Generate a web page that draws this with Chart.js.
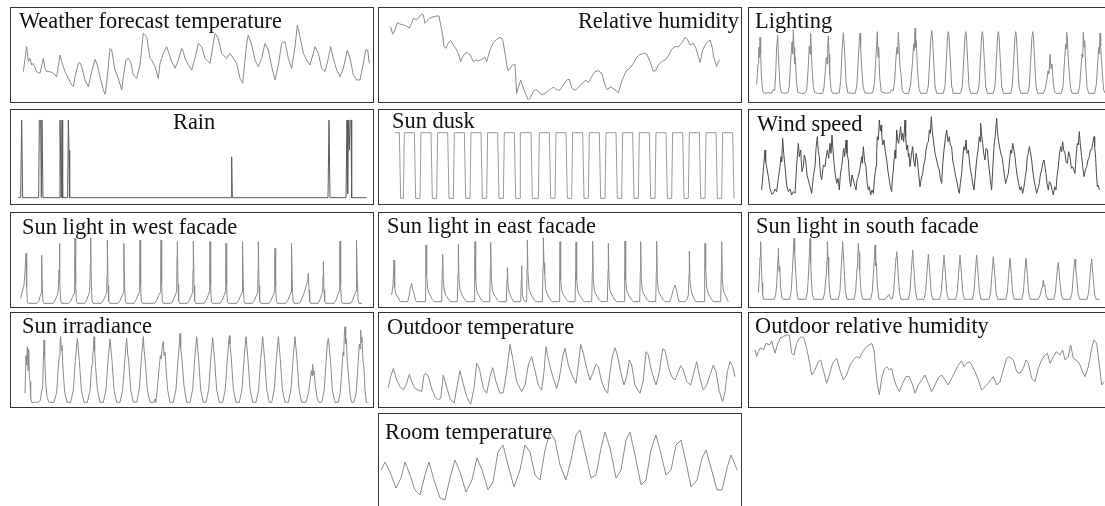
<!DOCTYPE html>
<html>
<head>
<meta charset="utf-8">
<script src="https://cdn.jsdelivr.net/npm/chart.js@4.4.1/dist/chart.umd.min.js"></script>
<style>
  html, body { margin: 0; padding: 0; background: #fff; overflow: hidden; width: 1105px; height: 506px; }
  .panel { position: absolute; width: 362px; height: 94px; border: 1px solid #333; background: #fff; }
  .panel canvas { position: absolute; left: 0; top: 0; }
  .ttl { position: absolute; z-index: 2; font-family: "Liberation Serif", "Times New Roman", serif;
         font-size: 22.4px; line-height: 22px; color: #111; white-space: nowrap; }
</style>
</head>
<body>
<script>
// Each series: [hour, value] samples over the ~22 day monitoring period.

// Weather forecast temperature (°C)
const forecastTemp = [[0,16.8],[5,24.3],[7.5,19.8],[10,20.8],[12.5,18.8],[15,19.3],[20,16.8],[25,16.3],[30,20.8],[32.5,17.8],[35,16.8],[40,16.8],[45,16.3],[50,15.3],[55,21.8],[57.5,19.8],[62.5,16.8],[67.5,14.8],[72.5,12.8],[75,12.3],[77.5,15.3],[82.5,19.3],[85,19.5],[87.5,18.3],[92.5,14.3],[97.5,12.3],[102.5,16.8],[107.5,20.5],[111,18.8],[115,15.3],[120,11.3],[122.5,10],[125,13.3],[130,23.8],[132.5,23.3],[137.5,17.3],[142.5,14.8],[147.5,11.3],[150,15.3],[154,20.3],[157.5,20.8],[161,19.8],[165,15.8],[170,14.8],[175,18.8],[180,28.3],[185,27.3],[190,20.8],[192.5,20.3],[197.5,18.3],[202.5,14.8],[205,19.3],[210,22.3],[215,24.3],[217.5,22.8],[222.5,19.8],[227.5,17.8],[232.5,20.3],[237.5,23.8],[240,22.8],[242.5,20.8],[247.5,18.8],[252.5,17.3],[257.5,20.8],[262.5,25.3],[267.5,24.3],[272.5,20.8],[280,19.3],[287.5,28.3],[292.5,26.8],[297.5,22.3],[305,20.8],[310,22.3],[315,20.8],[320,19.3],[325,14.8],[329,13.3],[335,25.3],[337.5,27.8],[342.5,24.8],[347.5,20.3],[352.5,18.3],[357.5,20.8],[362.5,25.3],[367.5,23.3],[372.5,18.3],[377.5,14.3],[382.5,18.8],[387.5,25.3],[392.5,25.8],[397.5,20.8],[402.5,17.8],[407.5,24.3],[411,30.8],[415,27.3],[420,22.3],[425,20.3],[430,18.8],[435,22.3],[437.5,24.3],[442.5,22.3],[447.5,17.8],[452.5,16.8],[457.5,20.8],[461,24.3],[465,20.8],[470,17.3],[475,15.3],[480,17.8],[486,23.3],[490,20.8],[495,15.8],[500,14.3],[505,14.3],[510,19.3],[513.5,23.3],[516.5,23.3],[519,19.3]];

// Relative humidity (%)
const relHumidity = [[0,90],[3,84.3],[6.5,87.5],[10,93],[14,92],[19,91.3],[24,90.5],[28,88.8],[31.5,92.5],[34,96.3],[39,95],[43,97.5],[46.5,99.5],[49,98.8],[51.5,92.5],[54,93.8],[59,96.3],[64,97.5],[69,98],[72.5,98],[75,91.3],[78,83.8],[80,75],[83,73.8],[86.5,78],[90,79.5],[94,76.3],[99,72.5],[101.5,70],[105,63.8],[108,67.5],[111.5,70],[115,70.5],[119,68.8],[124,63.8],[128,65],[131.5,64.3],[136.5,65.5],[141.5,67],[144,63.8],[149,72.5],[154,78],[159,80.5],[164,82],[168,80.5],[171.5,70],[174,61.3],[176.5,56.8],[179,58.8],[183,61.3],[186.5,61.8],[189,40],[191.5,44.5],[195,50],[199,43.8],[203,38.8],[206.5,35],[209,36.3],[214,41.3],[218,43],[221.5,41.3],[226.5,38.8],[231.5,40],[236.5,42],[241.5,43.8],[245,44.5],[249,42.5],[254,42.5],[259,46.3],[264,50],[268,50.5],[271.5,44.5],[275,42.5],[279,43],[283,45.5],[289,48],[293,50],[296.5,48],[301.5,52.5],[306.5,56.3],[311.5,57],[316.5,55],[321.5,46.3],[325,42.5],[329,45],[333,43.8],[338,42],[341.5,40.5],[345,46.3],[349,52],[354,57.5],[359,58.8],[364,62.5],[369,67],[373,68.8],[379,70],[384,69.5],[389,63.8],[394,56.3],[398,57.5],[401.5,61.3],[406.5,63.8],[411.5,65],[416.5,68],[421.5,73],[426.5,75],[431.5,75],[436.5,77.5],[441.5,82],[445,80.5],[449,76.3],[454,77.5],[458,73.8],[461.5,67.5],[464,63],[468,72.5],[473,77.5],[479,80],[481.5,76.3],[485,66.3],[489,60],[491.5,63.8],[494,65.5]];

// Lighting (klx)
const lighting = [[0,14],[2,45],[3,70],[4,55],[5,85],[6,60],[7,30],[8.5,8],[10,2],[14,1],[18,2],[22,1],[25,7],[27,5],[28.5,30],[30,70],[31.5,88.5],[32.5,62],[33.5,40],[35,12],[37,2],[42,1],[47,2],[49,12],[51,50],[53,78],[54,60],[55,96],[56,70],[57,45],[58,55],[59.5,20],[61.5,3],[66,1],[72,1],[75,6],[77,35],[79,72],[80,60],[81,91],[82,68],[83,40],[85,10],[87,2],[93,1],[99,1],[101,10],[103,35],[104.5,55],[105.5,45],[106.5,70],[107.5,87],[108.5,60],[109.5,30],[111.5,8],[113.5,1],[119,1],[124,2],[126,20],[128,65],[130,92],[132,62],[134,18],[136.5,2],[144,1],[148,1],[150.5,15],[152.5,55],[154,80],[155,91],[156,70],[157.5,40],[159.5,12],[162,2],[170,1],[174,2],[176.5,15],[178.5,50],[180,75],[181,93.5],[182,55],[183,70],[184.5,25],[187,3],[194,1],[200,2],[202,6],[205,5],[207,20],[209,55],[210.5,70],[211.5,60],[212.5,92.5],[213.5,72],[215,40],[216.5,30],[218.5,5],[221,1],[228,1],[231,15],[233.5,45],[235.5,75],[236.5,65],[237.5,98.5],[238.5,70],[239.5,80],[241,40],[243.5,8],[246,1],[255,1],[257.5,12],[259.5,50],[261.5,88],[262.5,95],[263.5,88],[265.5,50],[267.5,12],[270,1],[280,1],[282.5,12],[284.5,50],[286.5,88],[287.5,93.5],[288.5,88],[290.5,50],[292.5,12],[295,1],[306,1],[308.5,12],[310.5,50],[312.5,88],[313.5,93.5],[314.5,88],[316.5,50],[318.5,12],[321,1],[331,1],[333.5,12],[335.5,50],[337.5,88],[338.5,93.5],[339.5,88],[341.5,50],[343.5,12],[346,1],[355,1],[357.5,12],[359.5,50],[361.5,88],[362.5,93.5],[363.5,88],[365.5,50],[367.5,12],[370,1],[381,1],[383.5,12],[385.5,50],[387.5,88],[388.5,93.5],[389.5,88],[391.5,50],[393.5,12],[396,1],[406.5,1],[409,12],[411,50],[413,88],[414,93.5],[415,88],[417,50],[419,12],[421.5,1],[430,1],[433,8],[435.5,22],[437,35],[438.5,30],[440,59.5],[441.5,38],[443,45],[445,15],[447,3],[450,1],[457,1],[459.5,12],[461.5,45],[463.5,75],[464.5,68],[465,92.5],[466,85],[467,60],[469,30],[471,8],[473,1],[482,1],[484.5,12],[486.5,40],[488,60],[489,55],[490,92.5],[491,70],[492,80],[493.5,45],[495.5,10],[498,1],[507,1],[509.5,14],[511.5,45],[513,70],[514,60],[515,91],[516,72],[517,55],[518.5,30],[520.5,6],[523,1],[530,1]];

// Rain (mm)
const rain = [[0,0],[3.5,0],[5,9.3],[6.5,0],[30.5,0],[31.5,9.3],[33.5,9.3],[34.5,0],[35.5,9.3],[37,0],[61.5,0],[62.5,9.3],[64.5,0],[65.5,9.3],[66.5,0],[74,0],[75,9.3],[76,5.7],[77,0],[319,0],[320,4.9],[321,0],[464.5,0],[466,9.3],[467.5,0],[491.5,0],[493,9.3],[494,0.5],[495,9.3],[496.5,5.7],[497.5,9.3],[499,9.3],[500,0],[522.5,0]];

// Sun dusk sensor (0 = dark, 1 = daylight)
const sunDusk = [[0,1],[6.5,1],[8.5,0],[12.5,0],[14,1],[29,1],[31,0],[37.5,0],[39,1],[54,1],[56,0],[62.5,0],[64,1],[79,1],[81,0],[87.5,0],[89,1],[104,1],[106,0],[112.5,0],[114,1],[129,1],[131,0],[137.5,0],[139,1],[154,1],[156,0],[162.5,0],[164,1],[179,1],[181,0],[187.5,0],[188,1],[204,1],[206,0],[215,0],[216.5,1],[231.5,1],[233.5,0],[240,0],[241.5,1],[256.5,1],[258.5,0],[265,0],[266.5,1],[281.5,1],[283.5,0],[290,0],[291.5,1],[306.5,1],[308.5,0],[315,0],[316.5,1],[331.5,1],[333.5,0],[340,0],[341.5,1],[356.5,1],[358.5,0],[365,0],[366.5,1],[381.5,1],[383.5,0],[390,0],[391.5,1],[406.5,1],[408.5,0],[415,0],[416.5,1],[431.5,1],[433.5,0],[440,0],[441.5,1],[456.5,1],[458.5,0],[465,0],[466.5,1],[481.5,1],[483.5,0],[490,0],[491.5,1],[506.5,1],[508.5,0]];

// Wind speed (m/s)
const windSpeed = [[0,0.8],[2.5,3.2],[5,5.6],[6,4.2],[7.5,3.6],[10,2.4],[12.5,1],[15,0.3],[17.5,0.4],[20,0.9],[22.5,0.6],[25,2.2],[27.5,3.6],[29,4.8],[30,4.2],[31.5,7],[33,5.2],[35,3.6],[37.5,1.4],[40,0.6],[42.5,0.9],[45,0.2],[47.5,0.6],[50,0.4],[52.5,3.8],[55,6.4],[56.5,4.8],[58.5,5.6],[60.5,3],[62.5,3.6],[64,5],[66,4.4],[68,2.6],[70,2],[72.5,1.2],[75,0.4],[77.5,2.4],[80,3.6],[81.5,5.8],[83.5,7.2],[85,5.4],[86.5,4.8],[88,2.8],[90,2],[92.5,3.8],[95,3.6],[96.5,4.6],[98.5,5.6],[100.5,4.6],[102.5,6.4],[104,5.2],[105.5,7.4],[107,5.6],[108.5,4],[110.5,2.6],[112.5,1.6],[114.5,2.2],[116.5,0.8],[118,2.6],[120,3.6],[123,5.8],[124.5,4.8],[126.5,6.8],[128,5.2],[130,4.4],[131.5,2.4],[133.5,1.2],[135.5,2.6],[137.5,2],[139.5,1.4],[141.5,0.8],[143,2],[145,2.4],[147.5,3.4],[150,4.8],[151,4],[152.5,6],[154.5,4.2],[156.5,3.6],[158,1.8],[160,0.8],[161.5,1.2],[163.5,0.2],[165.5,0.8],[167.5,0.4],[169.5,2.4],[171.5,3.6],[172.5,5.4],[173.5,7.2],[175,6.8],[176.5,9.2],[178,7.9],[179,8.6],[180,7.6],[181.5,6.2],[183.5,6.8],[185.5,5.4],[187.5,4.4],[189.5,3],[191.5,2],[193,1.2],[195,0.6],[196,2],[197.5,3.2],[199,4.8],[200,5.6],[201,4.6],[202.5,8],[204,6.8],[205.5,6.4],[207,7.4],[208.5,8.4],[210,6.8],[211.5,7.6],[213,6.6],[215,9.2],[216,7.2],[217.5,5.6],[219,6.2],[220,4.8],[221,5.2],[222.5,3.6],[224.5,5],[226.5,6],[228,4.4],[230,3.6],[231.5,5.2],[233.5,4.4],[235.5,2.8],[237.5,1.2],[239.5,2.2],[241.5,2.8],[243,3.8],[245,4.4],[246.5,5.6],[248.5,6.4],[250,6.6],[251.5,8],[253,7.6],[254.5,9.6],[256,7.8],[257.5,6.8],[260,5.2],[262.5,4.4],[264.5,3.6],[266.5,3.2],[268,2.2],[270,1.6],[271.5,3.8],[273.5,5.6],[275.5,7],[277.5,8],[279.5,6.6],[281.5,7.2],[283,6.2],[285,6],[286.5,4.4],[288.5,3.6],[290.5,2.6],[292.5,2],[294.5,1],[296.5,0.4],[298,1.6],[300,2.8],[302,5],[303.5,6],[305,5.6],[306.5,6.8],[308,5.2],[310,5.6],[312.5,3.6],[315,2.4],[317,1.4],[318.5,0.8],[320.5,2.6],[322.5,4.4],[324.5,5.6],[326.5,7.2],[327.5,6.6],[328.5,8.8],[330,7.4],[331.5,6.4],[333,5.2],[335,4.4],[336.5,5.8],[338.5,5.6],[340,4.2],[341.5,3.2],[343,2],[345,0.8],[346.5,3.2],[348.5,6],[350.5,7.4],[352.5,9.4],[353.5,8],[355,6.8],[356.5,6.2],[358.5,5.2],[360.5,4.8],[362.5,3.6],[364,2.6],[366,1.6],[368,2.2],[370,2.8],[372,4.4],[373.5,5.6],[375,5.2],[376.5,6.4],[378,5.8],[380,4.8],[381.5,3.6],[383.5,2.4],[385.5,1.6],[387.5,0.8],[389.5,1.2],[391.5,0.4],[393.5,1.2],[395.5,2.4],[397,3.2],[398.5,4.8],[400,5.2],[401.5,6],[403,5.4],[405,4.4],[406.5,3.2],[408.5,2],[410.5,1.2],[412.5,0.4],[414.5,1],[416.5,1.6],[418,2.6],[420,3.2],[421.5,4],[423.5,4.4],[425,3.6],[426.5,2.8],[428,1.6],[430,0.8],[431.5,1.8],[433.5,1.6],[435.5,0.8],[437.5,0.2],[439.5,1.2],[441.5,0.8],[443,2.4],[445,3.6],[446.5,5],[448.5,6],[450,5.4],[451.5,6.6],[453,5.6],[455,5.2],[456.5,4.2],[458.5,4],[460.5,5.4],[462.5,4.8],[464.5,3.4],[466.5,3.6],[468,3.2],[470,2.8],[471.5,4.8],[473.5,6.4],[475,6.2],[476.5,7.8],[478,6.2],[480,4.8],[481.5,3.6],[483.5,2.4],[485.5,3.2],[487.5,3.6],[489.5,4.4],[491.5,4.8],[493,5.6],[495,5.6],[496.5,6.4],[498.5,7.2],[499.5,6],[501,4.6],[502,3],[503.5,1.2],[505,1.4],[506.5,0.8]];

// Sun light on the west facade (W/m²)
const sunWest = [[0,45],[3,120],[5,165],[6.5,285],[8,450],[9,150],[10,15],[11.5,0],[24,0],[27,15],[29,60],[30.5,90],[31.5,435],[32.5,120],[33.5,20],[35,0],[49,0],[52,30],[55,75],[56.5,120],[57.5,300],[58,540],[59,200],[60,30],[61.5,0],[72,0],[75,20],[78,60],[80,90],[81,300],[81.5,585],[82.5,180],[83.5,20],[85,0],[96,0],[99,30],[101.5,75],[103.5,105],[104.5,350],[105,591],[106,200],[107,30],[108.5,0],[121,0],[124,25],[127,70],[129,95],[129.5,250],[130,570],[131,160],[132,20],[133.5,0],[146,0],[149,25],[152,65],[154,95],[154.5,400],[155,540],[156,150],[157,25],[158.5,0],[170,0],[173,30],[176,75],[178,100],[178.5,300],[179,570],[180,160],[181,20],[182.5,0],[201,0],[204,25],[207,70],[209.5,100],[210,330],[210.5,570],[211.5,180],[212.5,25],[214,0],[226,0],[229,30],[232,75],[234,105],[234.5,420],[235,555],[236,170],[237,25],[238.5,0],[250,0],[253,25],[256,70],[258,100],[258.5,300],[259,561],[260,160],[261,20],[262.5,0],[275,0],[278,25],[281,70],[283,100],[283.5,300],[284,555],[285,160],[286,20],[287.5,0],[299,0],[302,25],[305,70],[307,100],[307.5,300],[308,540],[309,160],[310,20],[311.5,0],[324,0],[327,25],[330,70],[332,100],[332.5,300],[333,555],[334,160],[335,20],[336.5,0],[347.5,0],[350.5,25],[353.5,70],[355.5,100],[356,300],[356.5,555],[357.5,160],[358.5,20],[360,0],[372.5,0],[375.5,25],[378.5,70],[380.5,100],[381,380],[381.5,495],[382.5,150],[383.5,20],[385,0],[397.5,0],[400.5,25],[403.5,70],[405.5,100],[406,300],[406.5,540],[407.5,160],[408.5,20],[410,0],[418,0],[422,40],[426,110],[429,170],[430.5,200],[431.5,270],[432.5,120],[433.5,20],[435,0],[446,0],[449,35],[451.5,80],[453,110],[453.5,250],[454,375],[455,120],[456,20],[457.5,0],[470,0],[473,30],[476,80],[478,110],[478.5,420],[479,561],[480,170],[481,25],[482.5,0],[495,0],[498,30],[501,80],[503,110],[503.5,450],[504,570],[505,200],[506,30],[507.5,0],[512,0]];

// Sun light on the east facade (W/m²)
const sunEast = [[0,60],[2,150],[3.5,375],[4.5,130],[5.5,90],[7,60],[9,45],[11,20],[13,0],[24,0],[26.5,60],[28,120],[30,165],[31.5,110],[33,90],[35,30],[37,0],[50,0],[51,200],[51.5,510],[52.5,250],[54,110],[56,80],[58.5,50],[61,20],[64,0],[75,0],[76,300],[76.5,426],[77.5,180],[79,100],[81,60],[83,45],[86,15],[89,0],[98.5,0],[99.5,250],[100,516],[101,200],[102.5,110],[104.5,75],[107,45],[110,15],[113,0],[123.5,0],[124.5,300],[125,540],[126,200],[127.5,100],[129.5,70],[132,40],[135,12],[138,0],[147,0],[148,300],[148.5,534],[149.5,220],[151,100],[153,70],[155.5,45],[158.5,15],[161,0],[172,0],[173,200],[173.5,306],[174.5,150],[176,90],[178,60],[180,30],[183,0],[193.5,0],[194.5,200],[195,324],[196,60],[198,20],[200,0],[202.5,0],[203,300],[203.5,555],[204.5,250],[206,120],[208,80],[210.5,50],[213.5,20],[216,0],[226,0],[227,300],[227.5,576],[228.5,350],[229.5,250],[231,110],[233,75],[236,40],[239,10],[241,0],[251,0],[252,280],[252.5,540],[253.5,200],[255,100],[257,70],[259.5,45],[262.5,15],[265,0],[275,0],[276,280],[276.5,534],[277.5,200],[279,100],[281,70],[283.5,45],[286.5,15],[289,0],[300,0],[301,280],[301.5,546],[302.5,200],[304,100],[306,70],[308.5,45],[311.5,15],[314,0],[323.5,0],[324.5,280],[325,525],[326,200],[327.5,100],[329.5,70],[332,45],[335,15],[337.5,0],[348.5,0],[349.5,280],[350,546],[351,200],[352.5,100],[354.5,70],[357,45],[360,15],[362.5,0],[372,0],[373,280],[373.5,540],[374.5,200],[376,100],[378,70],[380.5,45],[383.5,15],[386,0],[396,0],[397,280],[397.5,546],[398.5,200],[400,100],[402,70],[404.5,45],[407.5,15],[410,0],[417,0],[420,50],[422.5,110],[425,150],[427,110],[429,50],[431,0],[440,0],[443,20],[445,60],[446,250],[446.5,456],[447.5,180],[449,110],[451,60],[453.5,30],[456,0],[468.5,0],[469.5,280],[470,525],[471,300],[472.5,130],[474.5,80],[477,50],[480,20],[482.5,0],[493.5,0],[494.5,280],[495,540],[496,200],[497.5,100],[499.5,70],[502,40],[504,10],[505,0]];

// Sun light on the south facade (W/m²)
const sunSouth = [[0,60],[1.5,200],[2.5,380],[3.5,519],[4.5,300],[5.5,150],[6.5,40],[8,0],[24,0],[26,40],[27.5,130],[28.5,250],[29.5,380],[30,459],[31,250],[32,300],[33.5,100],[35.5,10],[37,0],[47,0],[49.5,80],[51,250],[52.5,430],[53.5,549],[54.5,420],[55.5,300],[56.5,200],[58,50],[60,0],[71,0],[73.5,60],[75,200],[76.5,400],[77.5,549],[78.5,330],[79.5,180],[81,50],[83,0],[97,0],[99.5,60],[101,180],[102,220],[103,350],[103.5,519],[104.5,380],[105.5,220],[107,60],[109,0],[120,0],[122.5,80],[124.5,300],[126.5,519],[128.5,300],[130.5,80],[133,0],[143.5,0],[146,70],[148,280],[149,380],[150,504],[151,420],[152,260],[154,70],[156.5,0],[168.5,0],[171,70],[173,270],[174.5,420],[175,489],[176,300],[177,330],[178.5,120],[181,0],[190,0],[194,30],[196,45],[198,10],[200.5,0],[203,70],[205,250],[206.5,380],[207.5,429],[208.5,360],[210,200],[212,50],[214,0],[225,0],[227.5,70],[229.5,260],[231,400],[231.5,444],[232.5,330],[233.5,260],[235.5,80],[238,0],[248.5,0],[251,70],[253,250],[255,405],[257,250],[259,70],[261.5,0],[272,0],[274.5,70],[276.5,245],[278.5,399],[280.5,245],[282.5,70],[285,0],[296,0],[298.5,70],[300.5,245],[302.5,399],[304.5,245],[306.5,70],[309,0],[321,0],[323.5,70],[325.5,245],[327.5,399],[329.5,245],[331.5,70],[334,0],[346,0],[348.5,65],[350.5,235],[352.5,384],[354.5,235],[356.5,65],[359,0],[371,0],[373.5,60],[375.5,225],[377.5,369],[379.5,225],[381.5,60],[384,0],[395,0],[397.5,60],[399.5,225],[401.5,369],[403.5,225],[405.5,60],[408,0],[420,0],[423,40],[425.5,110],[426.5,140],[427.5,174],[428.5,120],[429.5,130],[431.5,40],[434,0],[443,0],[445.5,60],[447.5,200],[449,300],[450,333],[451,260],[452.5,150],[454.5,40],[457,0],[468,0],[470.5,60],[472.5,210],[474,330],[475,363],[476,280],[477.5,200],[479.5,50],[482,0],[493,0],[495.5,60],[497.5,210],[499,330],[500,363],[501,280],[502.5,180],[504.5,40],[507,0],[512,0]];

// Sun irradiance (W/m²)
const sunIrradiance = [[0,110],[1.5,560],[2.5,450],[3.5,668],[4.5,380],[5.5,640],[6.5,300],[7.5,250],[8.5,50],[10,0],[19,0],[23,20],[25,140],[26.5,170],[27.5,500],[28.5,748],[29.5,560],[31,250],[33,60],[36,0],[43.5,0],[47.5,120],[50,420],[51.5,560],[52.5,700],[53.5,788],[54.5,620],[55.5,680],[57,400],[59.5,120],[63,0],[68.5,0],[72.5,150],[75.5,500],[78.5,768],[81.5,500],[84.5,150],[88.5,0],[93.5,0],[97.5,140],[99.5,380],[100.5,450],[101.5,560],[102.5,620],[103.5,788],[104.5,620],[106,420],[108.5,160],[112.5,0],[117.5,0],[121.5,150],[124.5,500],[127.5,760],[130.5,500],[133.5,150],[137.5,0],[142.5,0],[146.5,150],[149.5,480],[151,640],[152.5,768],[154,580],[155.5,500],[158.5,150],[162.5,0],[167.5,0],[171.5,160],[174.5,520],[176.5,700],[177.5,788],[178.5,640],[180.5,480],[183.5,150],[187.5,0],[193,0],[195,40],[196,0],[198,120],[201,400],[203,560],[204.5,520],[206,680],[207.5,728],[208.5,560],[210,600],[212,350],[214,150],[217.5,0],[222.5,0],[226.5,160],[229,450],[230.5,600],[231.5,700],[232.5,828],[233.5,650],[235,560],[236.5,400],[238.5,200],[242.5,0],[247.5,0],[251.5,155],[254.5,515],[257.5,788],[260.5,515],[263.5,155],[267.5,0],[271.5,0],[275.5,150],[278.5,505],[281.5,776],[284.5,505],[287.5,150],[291.5,0],[296.5,0],[300.5,160],[303.5,520],[305.5,720],[306.5,800],[307.5,700],[309.5,520],[312.5,160],[316.5,0],[321.5,0],[325.5,155],[328.5,515],[331.5,788],[334.5,515],[337.5,155],[341.5,0],[346.5,0],[350.5,155],[353.5,515],[356.5,788],[359.5,515],[362.5,155],[366.5,0],[370,0],[374,155],[377,515],[380,788],[383,515],[386,155],[390,0],[395,0],[399,155],[402,515],[405,788],[408,515],[411,155],[415,0],[421.5,0],[425.5,120],[428,280],[429.5,380],[430.5,320],[431.5,456],[432.5,330],[433.5,380],[435.5,200],[438,60],[441,0],[445,0],[449,150],[451.5,480],[453.5,700],[455,768],[456.5,650],[458.5,480],[461,150],[465,0],[470,0],[473,120],[475.5,420],[477,600],[478,560],[479,820],[480,908],[481,700],[482,760],[483.5,480],[485.5,300],[488,60],[490,0],[493.5,0],[497,130],[499.5,450],[501.5,700],[502.5,640],[503.5,868],[504.5,720],[505.5,780],[507,500],[508.5,400],[510,150],[512,0],[514,0]];

// Outdoor temperature (°C)
const outdoorTemp = [[0,13.2],[3.5,16.5],[7.5,19],[12.5,15.5],[17.5,13.5],[22.5,12.5],[27.5,14.5],[31.5,17.2],[35,15],[40,13],[45,12.5],[50,12],[53.5,17],[56.5,17.5],[60,16.5],[65,13],[70,10.5],[75,9.5],[78.5,10],[82.5,17],[86.5,14],[92.5,10],[98.5,8.5],[103.5,14],[107.5,18.3],[111.5,15],[117.5,10.5],[123.5,8.2],[128.5,13],[132.5,20.5],[136.5,19],[142.5,13],[147.5,11.5],[152.5,16.5],[156.5,19.2],[161.5,15],[167.5,11.5],[172.5,11.8],[177.5,18],[182.5,26.2],[186.5,22],[192.5,15],[200,12],[205,14],[210,20],[215,22.5],[218.5,19.5],[225,14],[230,12.5],[233.5,18],[236.5,25.5],[238.5,23.2],[242.5,19.5],[247.5,16],[252.5,13],[256.5,16],[261.5,22.5],[265,25],[270,20],[276.5,16.5],[281.5,14.5],[285,20],[288.5,26.2],[292.5,23.5],[297.5,19],[302.5,15.5],[306.5,17.5],[311.5,20.2],[315,19.5],[320,15],[325,12.5],[329,11.5],[332.5,18],[336.5,23],[340,25.2],[343.5,23],[348.5,18],[353.5,14],[357.5,16.5],[361.5,21.5],[365,20],[370,14],[377.5,11.5],[382.5,15.5],[386.5,24],[390,23],[395,18],[401.5,14],[406.5,18],[411.5,24.8],[415,24.5],[420,19.5],[425,16.5],[430,15.5],[435,18],[438.5,19.8],[442.5,18.5],[447.5,15],[453.5,14],[458.5,18],[462.5,21],[467.5,16],[472.5,12.5],[477.5,14],[482.5,17],[487.5,20],[491.5,18],[496.5,12],[501.5,9],[505,12],[508.5,18],[512.5,21],[516.5,19.5],[520,16.5]];

// Outdoor relative humidity (%)
const outdoorHumidity = [[0,76.3],[2.5,71.3],[5,75],[8.5,78],[12.5,76.3],[16.5,81.3],[21.5,80],[25,83],[30,73.8],[33.5,80],[37.5,85],[42.5,86.3],[47.5,87.5],[51.5,87.5],[55,73.8],[58.5,72.5],[62.5,81.3],[66.5,85],[70,86.3],[73.5,85],[77.5,77.5],[82.5,65],[85,57.5],[90,61.3],[95,67.5],[98.5,68.8],[102.5,61.3],[107.5,51.3],[111.5,57.5],[116.5,66.3],[122.5,70],[127.5,61.3],[132.5,53.8],[137.5,57.5],[142.5,65],[147.5,68.8],[152.5,71.3],[156.5,70],[161.5,75],[167.5,78.8],[175,81.3],[178.5,76.3],[181.5,60],[183.5,50],[186.5,42.5],[190,55],[193.5,61.3],[197.5,63.8],[201.5,61.3],[205,62.5],[207.5,56.3],[211.5,50],[216.5,45],[221.5,51.3],[226.5,56.3],[231.5,56.3],[236.5,50],[240,43.8],[245,50],[250,53.8],[255,57.5],[260,51.3],[265,45],[270,50],[275,55.5],[280,57.5],[285,53.8],[290,50],[295,55],[300,60],[305,65],[310,68],[313.5,63.8],[317.5,66.3],[321.5,67.5],[325,65],[330,60],[335,53.8],[340,46.3],[345,48.8],[350,51.3],[353.5,53.8],[357.5,56.3],[362.5,50],[367.5,52.5],[372.5,61.3],[377.5,70],[381.5,71.3],[387.5,68.8],[392.5,60],[397.5,58.8],[402.5,62.5],[406.5,68.8],[410,66.3],[415,55],[420,52.5],[425,62.5],[430,68.8],[435,72.5],[438.5,73.8],[442.5,66.3],[447.5,71.3],[452.5,75],[457.5,72.5],[461.5,76.3],[465,68.8],[470,71.3],[473.5,80],[477.5,70],[481.5,68.8],[486.5,66.3],[490,61.3],[495,56.3],[500,63.8],[505,77.5],[508.5,83.8],[512.5,81.3],[516.5,65],[520,50],[523.5,52.5]];

// Room temperature (°C)
const roomTemp = [[0,22],[6,22.8],[13.5,21.8],[22.5,20.2],[30,21.2],[36,22.8],[43.5,21.5],[51,20],[58.5,19.5],[66,21.5],[72,22.8],[79.5,21],[88.5,19.2],[96,19],[103.5,21.2],[111,23],[118.5,21.8],[127.5,19.8],[136.5,21],[144,23.2],[151.5,22],[160.5,20],[168,20.8],[175.5,23.8],[183,24.5],[190.5,22.5],[199.5,20.3],[208.5,22],[216,24.5],[223.5,23.8],[231,21.5],[238.5,21],[246,24],[253.5,25.8],[261,25],[268.5,22.5],[277.5,21],[285,23],[292.5,25.5],[298.5,26],[306,23.8],[315,21.2],[322.5,21.5],[330,24.2],[336,25.8],[343.5,24.2],[352.5,21.2],[360,22],[367.5,25],[373.5,25.8],[381,23.5],[390,20.5],[397.5,21],[405,24],[412.5,25.5],[418.5,24],[427.5,21.5],[435,22],[442.5,24.5],[450,25],[457.5,22.8],[465,20.3],[474,21],[481.5,23.2],[487.5,24],[495,22.2],[504,20],[511.5,20],[519,22.2],[525,23.5],[529.5,22.8],[534,22]];

// Grid layout: left edges of the three columns and top edges of the five rows.
const COLS = [10, 378, 748];
const ROWS = [7, 109, 212, 312, 413];
const INNER_W = 362, INNER_H = 94;
const GREY = '#8a8a8a';

// Panel definitions: series, grid cell, visible axis windows, title placement (page coords).
const panels = [
  { series: forecastTemp,    col: 0, row: 0, x: [-18.5, 524.5], y: [7.7, 35.9],    title: 'Weather forecast temperature', tx: 19,  tb: 28.3, color: GREY },
  { series: relHumidity,     col: 1, row: 0, x: [-17.5, 525.5], y: [33.5, 104],    title: 'Relative humidity',           tr: 739, tb: 28.3, color: GREY },
  { series: lighting,        col: 2, row: 0, x: [-11.5, 531.5], y: [-12, 129],     title: 'Lighting',                    tx: 755, tb: 28.8, color: GREY },
  { series: rain,            col: 0, row: 1, x: [-11, 532],     y: [-0.76, 10.52], title: 'Rain',                        tx: 173, tb: 130,  color: '#5a5a5a' },
  { series: sunDusk,         col: 1, row: 1, x: [-24, 519],     y: [-0.086, 1.345],title: 'Sun dusk',                    tx: 392, tb: 128.3, color: '#9a9a9a' },
  { series: windSpeed,       col: 2, row: 1, x: [-19, 524],     y: [-0.88, 10.4],  title: 'Wind speed',                  tx: 757, tb: 132,  color: '#4a4a4a' },
  { series: sunWest,         col: 0, row: 2, x: [-14.5, 528.5], y: [-33, 813],     title: 'Sun light in west facade',    tx: 22,  tb: 235,  color: GREY },
  { series: sunEast,         col: 1, row: 2, x: [-19, 524],     y: [-48, 798],     title: 'Sun light in east facade',    tx: 387, tb: 233.3, color: GREY },
  { series: sunSouth,        col: 2, row: 2, x: [-14, 529],     y: [-69, 777],     title: 'Sun light in south facade',   tx: 756, tb: 233.3, color: GREY },
  { series: sunIrradiance,   col: 0, row: 3, x: [-21, 522],     y: [-56, 1072],    title: 'Sun irradiance',              tx: 22,  tb: 333.3, color: GREY },
  { series: outdoorTemp,     col: 1, row: 3, x: [-14, 529],     y: [7.4, 35.6],    title: 'Outdoor temperature',         tx: 387, tb: 334.3, color: GREY },
  { series: outdoorHumidity, col: 2, row: 3, x: [-9, 534],      y: [33.5, 104],    title: 'Outdoor relative humidity',   tx: 755, tb: 333.3, color: GREY },
  { series: roomTemp,        col: 1, row: 4, x: [-3, 540],      y: [18.2, 27.6],   title: 'Room temperature',            tx: 385, tb: 440,  color: GREY }
];

// Baseline offset of a 22.4px Liberation Serif line box with line-height 22px.
const BASELINE = 18.6;

panels.forEach(p => {
  const left = COLS[p.col], top = ROWS[p.row];
  const box = document.createElement('div');
  box.className = 'panel';
  box.style.left = left + 'px';
  box.style.top = top + 'px';

  const cv = document.createElement('canvas');
  cv.width = INNER_W; cv.height = INNER_H;
  cv.style.width = INNER_W + 'px'; cv.style.height = INNER_H + 'px';
  box.appendChild(cv);

  const t = document.createElement('div');
  t.className = 'ttl';
  t.textContent = p.title;
  t.style.top = (p.tb - BASELINE - (top + 1)) + 'px';
  if (p.tr !== undefined) {
    t.style.right = ((left + 1 + INNER_W) - p.tr) + 'px';
  } else {
    t.style.left = (p.tx - (left + 1)) + 'px';
  }
  box.appendChild(t);
  document.body.appendChild(box);

  new Chart(cv, {
    type: 'line',
    data: {
      datasets: [{
        data: p.series.map(([x, y]) => ({ x, y })),
        borderColor: p.color,
        borderWidth: 1,
        pointRadius: 0,
        tension: 0,
        fill: false
      }]
    },
    options: {
      responsive: false,
      animation: false,
      devicePixelRatio: 1,
      events: [],
      layout: { padding: 0 },
      plugins: { legend: { display: false }, tooltip: { enabled: false }, title: { display: false } },
      scales: {
        x: { type: 'linear', display: false, min: p.x[0], max: p.x[1] },
        y: { type: 'linear', display: false, min: p.y[0], max: p.y[1] }
      }
    }
  });
});
</script>
</body>
</html>
